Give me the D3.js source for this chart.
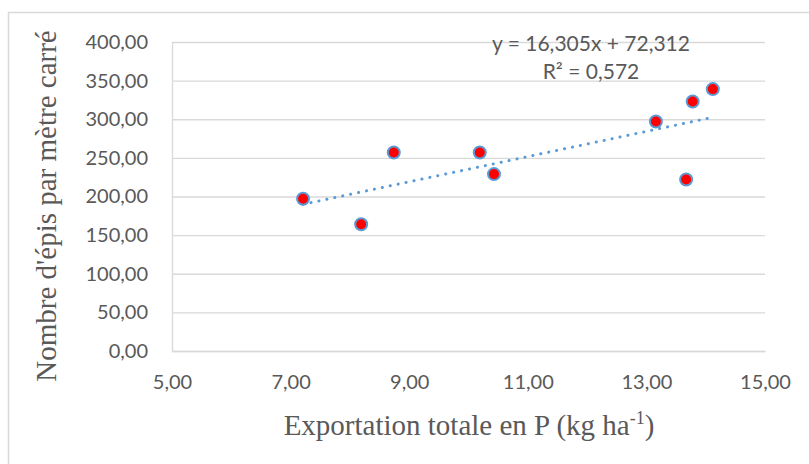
<!DOCTYPE html>
<html>
<head>
<meta charset="utf-8">
<script src="https://cdn.jsdelivr.net/npm/d3@7/dist/d3.min.js"></script>
<style>
  html, body { margin: 0; padding: 0; background: #fff; }
  svg { display: block; }
</style>
</head>
<body>
<svg id="chart" width="809" height="464"></svg>
<script>
// Phosphorus export (kg/ha) vs. ear count per square metre
const exportP = [7.21, 8.19, 8.74, 10.19, 10.43, 13.16, 13.78, 14.12, 13.67];
const episM2  = [197, 164, 257, 257, 229, 297, 323, 339, 222];
const xTicks = [5, 7, 9, 11, 13, 15];
const yTicks = [0, 50, 100, 150, 200, 250, 300, 350, 400];
const slope = 16.305, intercept = 72.312;
const equationLines = ["y = 16,305x + 72,312", "R² = 0,572"];

const svg = d3.select("#chart");
const plot = { left: 172, right: 765, top: 42, bottom: 351 };
const fmt = d => d.toFixed(2).replace(".", ",");
const grey = "#595959";
const tickFont = "Lato, 'Open Sans', sans-serif";
const serif = "'Liberation Serif', 'Times New Roman', serif";

// outer chart frame
svg.append("rect")
  .attr("x", 8.5).attr("y", 12.5).attr("width", 820).attr("height", 470)
  .attr("fill", "#fff").attr("stroke", "#d9d9d9").attr("stroke-width", 1.5);

const x = d3.scaleLinear().domain([5, 15]).range([plot.left, plot.right]);
const y = d3.scaleLinear().domain([0, 400]).range([plot.bottom, plot.top]);

// horizontal gridlines
svg.append("g")
  .attr("transform", `translate(${plot.left},0)`)
  .call(d3.axisLeft(y).tickValues(yTicks).tickSize(-(plot.right - plot.left)).tickFormat(""))
  .call(g => g.select(".domain").remove())
  .call(g => g.selectAll("line").attr("stroke", "#d9d9d9").attr("stroke-width", 1.3));

// y axis labels
svg.append("g")
  .attr("transform", `translate(${plot.left},0)`)
  .call(d3.axisLeft(y).tickValues(yTicks).tickSize(0).tickPadding(24).tickFormat(fmt))
  .call(g => g.select(".domain").attr("stroke", "#d9d9d9").attr("stroke-width", 1.3))
  .call(g => g.selectAll("text").attr("fill", grey).attr("font-size", 20).attr("font-family", tickFont));

// x axis
svg.append("g")
  .attr("transform", `translate(0,${plot.bottom})`)
  .call(d3.axisBottom(x).tickValues(xTicks).tickSize(0).tickPadding(24).tickFormat(fmt))
  .call(g => g.select(".domain").attr("stroke", "#d9d9d9").attr("stroke-width", 1.3))
  .call(g => g.selectAll("text").attr("fill", grey).attr("font-size", 20).attr("font-family", tickFont));

// linear trendline across the observed range
const xMin = d3.min(exportP), xMax = d3.max(exportP);
svg.append("line")
  .attr("x1", x(xMin)).attr("y1", y(slope * xMin + intercept))
  .attr("x2", x(xMax)).attr("y2", y(slope * xMax + intercept))
  .attr("stroke", "#5b9bd5").attr("stroke-width", 3)
  .attr("stroke-linecap", "round").attr("stroke-dasharray", "0.1 8");

// data points
svg.append("g").selectAll("circle")
  .data(exportP.map((v, i) => [v, episM2[i]]))
  .join("circle")
  .attr("cx", d => x(d[0])).attr("cy", d => y(d[1]))
  .attr("r", 6)
  .attr("fill", "#ff0000").attr("stroke", "#5b9bd5").attr("stroke-width", 2);

// trendline equation
svg.append("g").selectAll("text")
  .data(equationLines)
  .join("text")
  .attr("x", 591).attr("y", (d, i) => 51 + i * 27.5)
  .attr("text-anchor", "middle")
  .attr("fill", grey).attr("font-size", 21).attr("font-family", tickFont)
  .text(d => d);

// axis titles
svg.append("text")
  .attr("transform", "translate(56,206) rotate(-90)")
  .attr("text-anchor", "middle")
  .attr("fill", grey).attr("font-size", 29).attr("font-family", serif)
  .text("Nombre d'épis par mètre carré");

const xt = svg.append("text")
  .attr("x", 469).attr("y", 435)
  .attr("text-anchor", "middle")
  .attr("fill", grey).attr("font-size", 29).attr("font-family", serif);
xt.append("tspan").text("Exportation totale en P (kg ha");
xt.append("tspan").attr("font-size", 18).attr("dy", -11).text("-1");
xt.append("tspan").attr("dy", 11).text(")");
</script>
</body>
</html>
